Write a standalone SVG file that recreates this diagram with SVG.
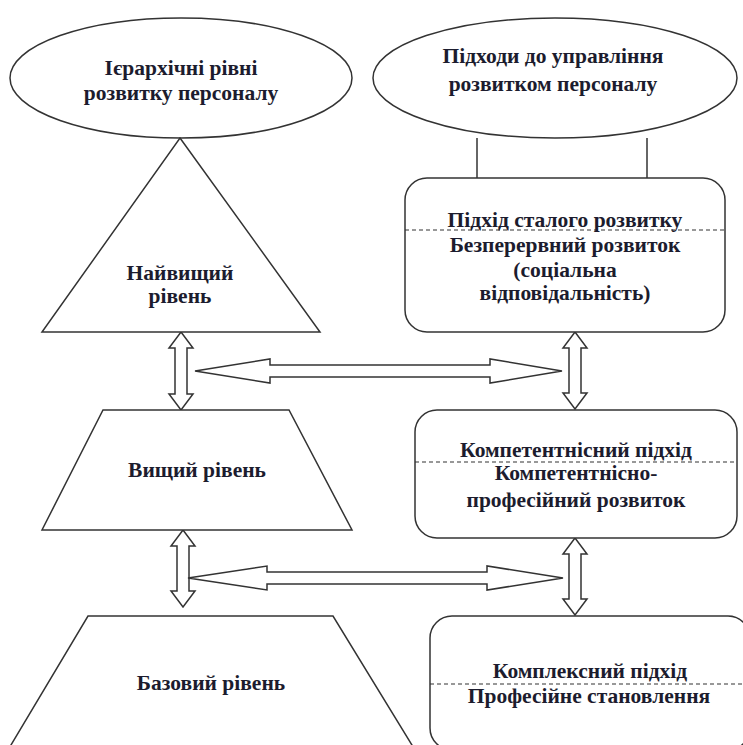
<svg xmlns="http://www.w3.org/2000/svg" width="743" height="745" viewBox="0 0 743 745">
<style>
.s{fill:#fff;stroke:#333;stroke-width:1.5}
.d{stroke:#333;stroke-width:1.2;stroke-dasharray:4,3;fill:none}
.l{stroke:#333;stroke-width:1.5;fill:none}
.t{font-family:'Liberation Serif','Times New Roman','DejaVu Serif',serif;font-weight:700;font-size:21.5px;fill:#1c1c2e;text-anchor:middle}
</style>
<rect width="743" height="745" fill="#fff"/>
<g id="connectors">
<line class="l" x1="477" y1="138" x2="477" y2="178"/>
<line class="l" x1="647" y1="138" x2="647" y2="178"/>
<polygon class="s" points="181,332 193,348 187,348 187,394 193,394 181,410 169,394 175,394 175,348 169,348"/>
<polygon class="s" points="183,530 195,546 189,546 189,591 195,591 183,607 171,591 177,591 177,546 171,546"/>
<polygon class="s" points="575,332 587,348 581,348 581,393 587,393 575,409 563,393 569,393 569,348 563,348"/>
<polygon class="s" points="575,538 587,554 581,554 581,599 587,599 575,615 563,599 569,599 569,554 563,554"/>
<polygon class="s" points="195,371 270,359 270,365 490,365 490,359 562,371 490,383 490,377 270,377 270,383"/>
<polygon class="s" points="188,578 267,566 267,572 487,572 487,566 563,578 487,590 487,584 267,584 267,590"/>
</g>
<g id="hier-title">
<ellipse class="s" cx="181" cy="78" rx="171" ry="60"/>
<text class="t" x="181" y="75">Ієрархічні рівні</text>
<text class="t" x="181" y="100">розвитку персоналу</text>
</g>
<g id="approach-title">
<ellipse class="s" cx="555" cy="78" rx="182" ry="60"/>
<text class="t" x="553" y="63">Підходи до управління</text>
<text class="t" x="553" y="91">розвитком персоналу</text>
</g>
<g id="level-top">
<polygon class="s" points="180,138 320,332 42,332"/>
<text class="t" x="180" y="280">Найвищий</text>
<text class="t" x="180" y="303">рівень</text>
</g>
<g id="level-high">
<polygon class="s" points="103,410 289,410 352,530 42,530"/>
<text class="t" x="197" y="477">Вищий рівень</text>
</g>
<g id="level-base">
<polygon class="s" points="88,616 333,616 415,750 8,750"/>
<text class="t" x="211" y="690">Базовий рівень</text>
</g>
<g id="approach-sustainable">
<rect class="s" x="405" y="178" width="320" height="154" rx="22"/>
<line class="d" x1="405" y1="230" x2="725" y2="230"/>
<text class="t" x="565" y="227">Підхід сталого розвитку</text>
<text class="t" x="565" y="252">Безперервний розвиток</text>
<text class="t" x="565" y="277">(соціальна</text>
<text class="t" x="565" y="300">відповідальність)</text>
</g>
<g id="approach-competence">
<rect class="s" x="415" y="410" width="322" height="128" rx="22"/>
<line class="d" x1="415" y1="462" x2="737" y2="462"/>
<text class="t" x="576" y="457">Компетентнісний підхід</text>
<text class="t" x="576" y="480">Компетентнісно-</text>
<text class="t" x="576" y="507">професійний розвиток</text>
</g>
<g id="approach-complex">
<rect class="s" x="430" y="616" width="320" height="134" rx="22"/>
<line class="d" x1="430" y1="684" x2="743" y2="684"/>
<text class="t" x="590" y="678">Комплексний підхід</text>
<text class="t" x="589" y="703">Професійне становлення</text>
</g>
</svg>
